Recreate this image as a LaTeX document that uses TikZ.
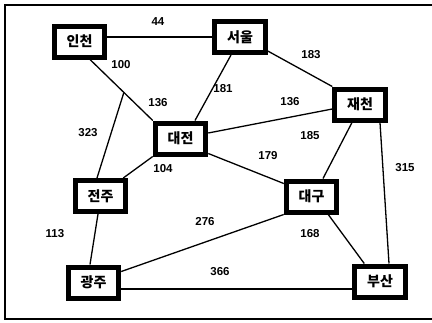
\documentclass[tikz,border=0pt]{standalone}
\usepackage{fontspec}
\setmainfont{Liberation Sans}
\newfontfamily\cjk{Noto Sans CJK KR}
\usetikzlibrary{calc}
\begin{document}
\begin{tikzpicture}[x=1pt,y=-1pt,
  city/.style={draw,line width=5pt,fill=white,minimum width=50.5pt,minimum height=31pt,inner sep=0pt,font=\cjk\bfseries\fontsize{14}{14}\selectfont},
  road/.style={line width=1.3pt},
  dist/.style={font=\bfseries\fontsize{11.5}{11.5}\selectfont,inner sep=0pt}]
\useasboundingbox (0,0) rectangle (432,322);
\draw[line width=1.5pt] (5,5) rectangle (445,319);
% cities
\node[city] (incheon) at (79.5,41.5) {인천};
\node[city] (seoul) at (240,37) {서울};
\node[city] (jecheon) at (360,104.5) {재천};
\node[city] (daejeon) at (180.5,138.5) {대전};
\node[city] (jeonju) at (100.5,196) {전주};
\node[city] (daegu) at (311.5,196.5) {대구};
\node[city] (gwangju) at (93.5,282.5) {광주};
\node[city] (busan) at (380,281.5) {부산};
% roads
\draw[road] (incheon.east |- seoul.west) -- (seoul.west);
\draw[road] ([xshift=10.5pt]incheon.south) -- (daejeon.north west);
\coordinate (j) at ($([xshift=10.5pt]incheon.south)!0.54!(daejeon.north west)$);
\draw[road] ([xshift=-3.5pt]jeonju.north) -- (j);
\draw[road] ([xshift=-9pt]seoul.south) -- ([xshift=14.5pt]daejeon.north);
\draw[road] ([yshift=4pt]seoul.south east) -- (jecheon.north west);
\draw[road] ([yshift=5.5pt]daejeon.east) -- ([yshift=-4.5pt]jecheon.west);
\draw[road] ([xshift=-8pt]jecheon.south) -- ([xshift=11.5pt]daegu.north);
\draw[road] ([xshift=20pt]jecheon.south) -- ([xshift=9pt]busan.north);
\draw[road] ([yshift=3pt]daejeon.south east) -- ([yshift=-5pt]daegu.north west);
\draw[road] ([xshift=-5pt]jeonju.north east) -- (daejeon.south west);
\draw[road] ([xshift=-2.5pt]jeonju.south) -- ([xshift=-3.5pt]gwangju.north);
\draw[road] ([yshift=-7pt]gwangju.north east) -- (daegu.south west);
\draw[road] ([yshift=-6.5pt]gwangju.east) -- ([yshift=-7.5pt]busan.west);
\draw[road] ([xshift=-11pt]daegu.south east) -- ([xshift=12pt]busan.north west);
% distances
\node[dist] (d44) at (158,22) {44};
\node[dist] (d100) at (121,65) {100};
\node[dist] (d136a) at (158,103) {136};
\node[dist] (d323) at (88,133) {323};
\node[dist] (d181) at (223,89) {181};
\node[dist] (d183) at (311,55) {183};
\node[dist] (d136b) at (290,102) {136};
\node[dist] (d185) at (310,136) {185};
\node[dist] (d179) at (268,156) {179};
\node[dist] (d104) at (163,169) {104};
\node[dist] (d113) at (55,234) {113};
\node[dist] (d276) at (205,222) {276};
\node[dist] (d168) at (310,234) {168};
\node[dist] (d366) at (220,272) {366};
\node[dist] (d315) at (405,168) {315};
\end{tikzpicture}
\end{document}
